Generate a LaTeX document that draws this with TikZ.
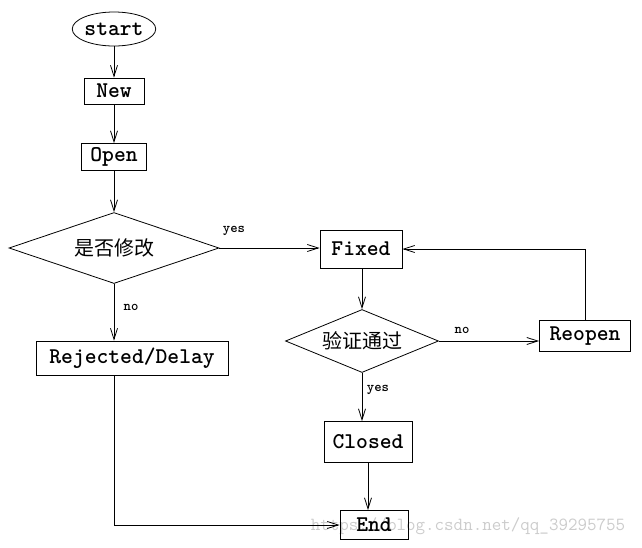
\documentclass[tikz,border=0pt]{standalone}
\usepackage{fontspec}
\newfontfamily\cjk{Noto Sans CJK SC}
\usetikzlibrary{
    shapes.geometric,      % ellipse, diamond
    arrows.meta            % arrow tips
}

\begin{document}
\begin{tikzpicture}[x=1pt, y=-1pt, line width=0.8pt,
    box/.style={draw, rectangle, inner sep=0pt, font=\ttfamily\bfseries\fontsize{22.5}{22.5}\selectfont},
    decide/.style={draw, diamond, inner sep=0pt, font=\cjk\fontsize{20}{20}\selectfont},
    lbl/.style={font=\ttfamily\bfseries\fontsize{14}{14}\selectfont},
    arr/.style={-{Straight Barb[length=11pt, width=7pt]}}
]
    \useasboundingbox[fill=white] (0,0) rectangle (642,547);

    % Main column
    \node[box, ellipse, minimum width=70, minimum height=34] (start) at (114, 29) {start};
    \node[box, minimum width=60, minimum height=26] (new) at (114, 91) {New};
    \node[box, minimum width=65, minimum height=27] (open) at (114, 157) {Open};
    \node[decide, shape aspect=3, minimum width=210, minimum height=71] (isfix) at (114, 248) {是否修改};
    \node[box, minimum width=192, minimum height=34] (rejected) at (132, 358) {Rejected/Delay};

    % Right column
    \node[box, minimum width=82, minimum height=38] (fixed) at (361, 249) {Fixed};
    \node[decide, shape aspect=2.45, minimum width=153, minimum height=63] (verify) at (362, 341) {验证通过};
    \node[box, minimum width=91, minimum height=31] (reopen) at (585, 336) {Reopen};
    \node[box, minimum width=88, minimum height=41] (closed) at (368, 442) {Closed};
    \node[box, minimum width=68, minimum height=29] (end) at (374, 525) {End};

    % Branch labels
    \node[lbl] (yesfix) at (234, 231) {yes};
    \node[lbl] (norej) at (131, 307) {no};
    \node[lbl] (noreopen) at (462, 330) {no};
    \node[lbl] (yesclose) at (378, 390) {yes};

    % Connectors
    \draw[arr] (start) -- (new);
    \draw[arr] (new) -- (open);
    \draw[arr] (open) -- (isfix.north);
    \draw[arr] (isfix.east) -- (isfix.east -| fixed.west);
    \draw[arr] (isfix.south) -- (isfix.south |- rejected.north);
    \draw[arr] (verify.north |- fixed.south) -- (verify.north);
    \draw[arr] (verify.east) -- (verify.east -| reopen.west);
    \draw[arr] (reopen.north) |- (fixed.east);
    \draw[arr] (verify.south) -- (verify.south |- closed.north);
    \draw[arr] (closed.south) -- (closed.south |- end.north);
    \draw[arr] (rejected.south -| isfix.south) |- (end.west);

    % Watermark
    \node[font=\ttfamily\fontsize{18.5}{18.5}\selectfont, text=black, opacity=0.2] (mark) at (468, 526) {https://blog.csdn.net/qq\_39295755};
\end{tikzpicture}
\end{document}
